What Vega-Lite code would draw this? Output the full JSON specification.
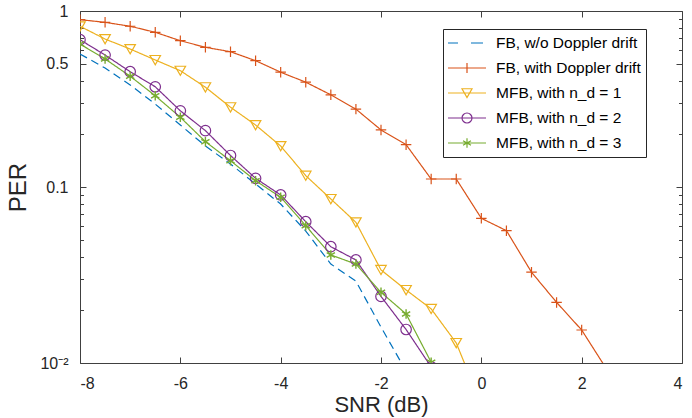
{
  "$schema": "https://vega.github.io/schema/vega-lite/v6.json",
  "width": 602,
  "height": 352,
  "autosize": {"type": "none"},
  "padding": {"left": 80, "top": 11, "right": 10, "bottom": 55},
  "background": "white",
  "data": {
    "values": [
      {"snr": -8, "per": 0.57, "series": "FB, w/o Doppler drift"},
      {"snr": -7.5, "per": 0.474, "series": "FB, w/o Doppler drift"},
      {"snr": -7, "per": 0.38, "series": "FB, w/o Doppler drift"},
      {"snr": -6.5, "per": 0.296, "series": "FB, w/o Doppler drift"},
      {"snr": -6, "per": 0.225, "series": "FB, w/o Doppler drift"},
      {"snr": -5.5, "per": 0.171, "series": "FB, w/o Doppler drift"},
      {"snr": -5, "per": 0.135, "series": "FB, w/o Doppler drift"},
      {"snr": -4.5, "per": 0.104, "series": "FB, w/o Doppler drift"},
      {"snr": -4, "per": 0.08, "series": "FB, w/o Doppler drift"},
      {"snr": -3.5, "per": 0.0562, "series": "FB, w/o Doppler drift"},
      {"snr": -3, "per": 0.0365, "series": "FB, w/o Doppler drift"},
      {"snr": -2.5, "per": 0.0292, "series": "FB, w/o Doppler drift"},
      {"snr": -2, "per": 0.016, "series": "FB, w/o Doppler drift"},
      {"snr": -1.5, "per": 0.009, "series": "FB, w/o Doppler drift"},

      {"snr": -8, "per": 0.893, "series": "FB, with Doppler drift"},
      {"snr": -7.5, "per": 0.862, "series": "FB, with Doppler drift"},
      {"snr": -7, "per": 0.819, "series": "FB, with Doppler drift"},
      {"snr": -6.5, "per": 0.757, "series": "FB, with Doppler drift"},
      {"snr": -6, "per": 0.678, "series": "FB, with Doppler drift"},
      {"snr": -5.5, "per": 0.622, "series": "FB, with Doppler drift"},
      {"snr": -5, "per": 0.587, "series": "FB, with Doppler drift"},
      {"snr": -4.5, "per": 0.522, "series": "FB, with Doppler drift"},
      {"snr": -4, "per": 0.449, "series": "FB, with Doppler drift"},
      {"snr": -3.5, "per": 0.394, "series": "FB, with Doppler drift"},
      {"snr": -3, "per": 0.334, "series": "FB, with Doppler drift"},
      {"snr": -2.5, "per": 0.277, "series": "FB, with Doppler drift"},
      {"snr": -2, "per": 0.211, "series": "FB, with Doppler drift"},
      {"snr": -1.5, "per": 0.174, "series": "FB, with Doppler drift"},
      {"snr": -1, "per": 0.111, "series": "FB, with Doppler drift"},
      {"snr": -0.5, "per": 0.111, "series": "FB, with Doppler drift"},
      {"snr": 0, "per": 0.0664, "series": "FB, with Doppler drift"},
      {"snr": 0.5, "per": 0.0565, "series": "FB, with Doppler drift"},
      {"snr": 1, "per": 0.0328, "series": "FB, with Doppler drift"},
      {"snr": 1.5, "per": 0.0221, "series": "FB, with Doppler drift"},
      {"snr": 2, "per": 0.0154, "series": "FB, with Doppler drift"},
      {"snr": 2.5, "per": 0.0092, "series": "FB, with Doppler drift"},

      {"snr": -8, "per": 0.819, "series": "MFB, with n_d = 1"},
      {"snr": -7.5, "per": 0.693, "series": "MFB, with n_d = 1"},
      {"snr": -7, "per": 0.608, "series": "MFB, with n_d = 1"},
      {"snr": -6.5, "per": 0.527, "series": "MFB, with n_d = 1"},
      {"snr": -6, "per": 0.458, "series": "MFB, with n_d = 1"},
      {"snr": -5.5, "per": 0.369, "series": "MFB, with n_d = 1"},
      {"snr": -5, "per": 0.284, "series": "MFB, with n_d = 1"},
      {"snr": -4.5, "per": 0.225, "series": "MFB, with n_d = 1"},
      {"snr": -4, "per": 0.171, "series": "MFB, with n_d = 1"},
      {"snr": -3.5, "per": 0.116, "series": "MFB, with n_d = 1"},
      {"snr": -3, "per": 0.0855, "series": "MFB, with n_d = 1"},
      {"snr": -2.5, "per": 0.063, "series": "MFB, with n_d = 1"},
      {"snr": -2, "per": 0.0338, "series": "MFB, with n_d = 1"},
      {"snr": -1.5, "per": 0.026, "series": "MFB, with n_d = 1"},
      {"snr": -1, "per": 0.0203, "series": "MFB, with n_d = 1"},
      {"snr": -0.5, "per": 0.013, "series": "MFB, with n_d = 1"},
      {"snr": 0, "per": 0.0058, "series": "MFB, with n_d = 1"},

      {"snr": -8, "per": 0.687, "series": "MFB, with n_d = 2"},
      {"snr": -7.5, "per": 0.562, "series": "MFB, with n_d = 2"},
      {"snr": -7, "per": 0.452, "series": "MFB, with n_d = 2"},
      {"snr": -6.5, "per": 0.371, "series": "MFB, with n_d = 2"},
      {"snr": -6, "per": 0.271, "series": "MFB, with n_d = 2"},
      {"snr": -5.5, "per": 0.209, "series": "MFB, with n_d = 2"},
      {"snr": -5, "per": 0.151, "series": "MFB, with n_d = 2"},
      {"snr": -4.5, "per": 0.112, "series": "MFB, with n_d = 2"},
      {"snr": -4, "per": 0.0901, "series": "MFB, with n_d = 2"},
      {"snr": -3.5, "per": 0.0635, "series": "MFB, with n_d = 2"},
      {"snr": -3, "per": 0.0458, "series": "MFB, with n_d = 2"},
      {"snr": -2.5, "per": 0.0385, "series": "MFB, with n_d = 2"},
      {"snr": -2, "per": 0.0239, "series": "MFB, with n_d = 2"},
      {"snr": -1.5, "per": 0.0155, "series": "MFB, with n_d = 2"},
      {"snr": -1, "per": 0.0095, "series": "MFB, with n_d = 2"},

      {"snr": -8, "per": 0.649, "series": "MFB, with n_d = 3"},
      {"snr": -7.5, "per": 0.534, "series": "MFB, with n_d = 3"},
      {"snr": -7, "per": 0.426, "series": "MFB, with n_d = 3"},
      {"snr": -6.5, "per": 0.33, "series": "MFB, with n_d = 3"},
      {"snr": -6, "per": 0.249, "series": "MFB, with n_d = 3"},
      {"snr": -5.5, "per": 0.181, "series": "MFB, with n_d = 3"},
      {"snr": -5, "per": 0.141, "series": "MFB, with n_d = 3"},
      {"snr": -4.5, "per": 0.1086, "series": "MFB, with n_d = 3"},
      {"snr": -4, "per": 0.0874, "series": "MFB, with n_d = 3"},
      {"snr": -3.5, "per": 0.0603, "series": "MFB, with n_d = 3"},
      {"snr": -3, "per": 0.0411, "series": "MFB, with n_d = 3"},
      {"snr": -2.5, "per": 0.0365, "series": "MFB, with n_d = 3"},
      {"snr": -2, "per": 0.0252, "series": "MFB, with n_d = 3"},
      {"snr": -1.5, "per": 0.019, "series": "MFB, with n_d = 3"},
      {"snr": -1, "per": 0.0101, "series": "MFB, with n_d = 3"}
    ]
  },
  "layer": [
    {
      "mark": {"type": "line", "strokeWidth": 1.2, "clip": true},
      "encoding": {
        "x": {"field": "snr", "type": "quantitative", "scale": {"domain": [-8, 4], "nice": false, "zero": false},
              "axis": {"orient": "bottom", "title": "SNR (dB)", "values": [-8, -6, -4, -2, 0, 2, 4], "labelExpr": "'' + datum.value", "labelPadding": 12.5, "titlePadding": 3, "titleFontSize": 22, "domain": true, "ticks": false, "grid": true, "gridDash": [6, 340]}},
        "y": {"field": "per", "type": "quantitative", "scale": {"type": "log", "domain": [0.01, 1], "nice": false},
              "axis": {"orient": "left", "title": "PER", "values": [0.01, 0.1, 0.5, 1], "labelExpr": "datum.value < 0.05 ? '10⁻²' : (datum.value < 0.2 ? '0.1' : (datum.value < 0.7 ? '0.5' : '1'))", "labelPadding": 12, "titlePadding": 9, "domain": true, "ticks": false, "grid": true, "gridDash": [6, 590]}},
        "color": {"field": "series", "type": "nominal",
                  "scale": {"domain": ["FB, w/o Doppler drift", "FB, with Doppler drift", "MFB, with n_d = 1", "MFB, with n_d = 2", "MFB, with n_d = 3"],
                            "range": ["#0072BD", "#D95319", "#EDB120", "#7E2F8E", "#77AC30"]}},
        "strokeDash": {"field": "series", "type": "nominal", "legend": null,
                  "scale": {"range": [[8, 5], [1, 0], [1, 0], [1, 0], [1, 0]]}}
      }
    },
    {
      "transform": [{"filter": "datum.series == 'FB, with Doppler drift'"}],
      "mark": {"type": "point", "shape": "M-1,0L1,0M0,-1L0,1", "filled": false, "opacity": 1, "size": 110, "strokeWidth": 1.2, "clip": true},
      "encoding": {
        "x": {"field": "snr", "type": "quantitative", "axis": null},
        "y": {"field": "per", "type": "quantitative", "scale": {"type": "log", "domain": [0.01, 1], "nice": false},
              "axis": {"orient": "left", "labels": false, "title": null, "domain": false, "ticks": false, "grid": true, "gridDash": [3.5, 595], "values": [0.02, 0.03, 0.04, 0.05, 0.06, 0.07, 0.08, 0.09, 0.2, 0.3, 0.4, 0.6, 0.7, 0.8, 0.9]}},
        "color": {"field": "series", "type": "nominal"}
      }
    },
    {
      "transform": [{"filter": "datum.series == 'MFB, with n_d = 1'"}],
      "mark": {"type": "point", "shape": "M-1,-0.85L1,-0.85L0,0.9Z", "filled": false, "opacity": 1, "size": 110, "strokeWidth": 1.2, "clip": true},
      "encoding": {
        "x": {"field": "snr", "type": "quantitative", "axis": null},
        "y": {"field": "per", "type": "quantitative", "axis": null},
        "color": {"field": "series", "type": "nominal"}
      }
    },
    {
      "transform": [{"filter": "datum.series == 'MFB, with n_d = 2'"}],
      "mark": {"type": "point", "shape": "M1,0A1,1,0,1,1,-1,0A1,1,0,1,1,1,0Z", "filled": false, "opacity": 1, "size": 110, "strokeWidth": 1.2, "clip": true},
      "encoding": {
        "x": {"field": "snr", "type": "quantitative",
              "axis": {"orient": "top", "labels": false, "title": null, "values": [-8, -6, -4, -2, 0, 2, 4], "domain": true, "ticks": false}},
        "y": {"field": "per", "type": "quantitative",
              "axis": {"orient": "right", "labels": false, "title": null, "values": [0.01, 0.1, 0.5, 1], "domain": true, "ticks": false}},
        "color": {"field": "series", "type": "nominal"}
      }
    },
    {
      "transform": [{"filter": "datum.series == 'MFB, with n_d = 3'"}],
      "mark": {"type": "point", "shape": "M0,-1L0,1M-0.87,-0.5L0.87,0.5M-0.87,0.5L0.87,-0.5", "filled": false, "opacity": 1, "size": 90, "strokeWidth": 1.4, "clip": true},
      "encoding": {
        "x": {"field": "snr", "type": "quantitative", "axis": null},
        "y": {"field": "per", "type": "quantitative", "axis": null},
        "color": {"field": "series", "type": "nominal"}
      }
    },
    {
      "mark": {"type": "point", "filled": false, "opacity": 1, "strokeWidth": 1.2, "clip": true, "yOffset": 3000},
      "encoding": {
        "x": {"field": "snr", "type": "quantitative", "axis": null},
        "y": {"field": "per", "type": "quantitative", "axis": null},
        "color": {"field": "series", "type": "nominal",
                  "legend": {"title": null, "orient": "none", "legendX": 363, "legendY": 18, "labelExpr": "datum.label + '\u00a0\u00a0\u00a0\u00a0\u00a0\u2002\u2003'"}},
        "shape": {"field": "series", "type": "nominal",
                  "legend": {"title": null, "orient": "none", "legendX": 363, "legendY": 18, "labelExpr": "datum.label + '\u00a0\u00a0\u00a0\u00a0\u00a0\u2002\u2003'"},
                  "scale": {"domain": ["FB, w/o Doppler drift", "FB, with Doppler drift", "MFB, with n_d = 1", "MFB, with n_d = 2", "MFB, with n_d = 3"],
                            "range": ["M-2.375,0L-1.125,0M0.5,0L2,0",
                                      "M-2.375,0L2.375,0M0,-0.625L0,0.625",
                                      "M-2.375,0L2.375,0M-0.625,-0.53L0.625,-0.53L0,0.56Z",
                                      "M-2.375,0L2.375,0M0.625,0A0.625,0.625,0,1,1,-0.625,0A0.625,0.625,0,1,1,0.625,0Z",
                                      "M-2.375,0L2.375,0M0,-0.58L0,0.58M-0.5,-0.29L0.5,0.29M-0.5,0.29L0.5,-0.29"]}}
      }
    }
  ],
  "resolve": {"axis": {"x": "independent", "y": "independent"}},
  "config": {
    "view": {"stroke": null},
    "font": "Liberation Sans",
    "axis": {
      "domainColor": "#404040",
      "tickColor": "#404040",
      "gridColor": "#404040",
      "gridOpacity": 1,
      "gridWidth": 1,
      "domainWidth": 1,
      "tickWidth": 1,
      "labelColor": "#262626",
      "titleColor": "#262626",
      "labelFont": "Liberation Sans",
      "titleFont": "Liberation Sans",
      "labelFontSize": 16,
      "titleFontSize": 24,
      "titleFontWeight": "normal"
    },
    "legend": {
      "padding": 5,
      "rowPadding": 7,
      "symbolOffset": 10,
      "labelOffset": 20,
      "titleFontSize": 0,
      "titlePadding": 0,
      "labelFont": "Liberation Sans",
      "labelFontSize": 15.5,
      "labelColor": "#000000",
      "labelLimit": 400,
      "symbolSize": 256,
      "symbolStrokeWidth": 1.2,
      "strokeColor": "#262626",
      "fillColor": "white"
    }
  }
}
